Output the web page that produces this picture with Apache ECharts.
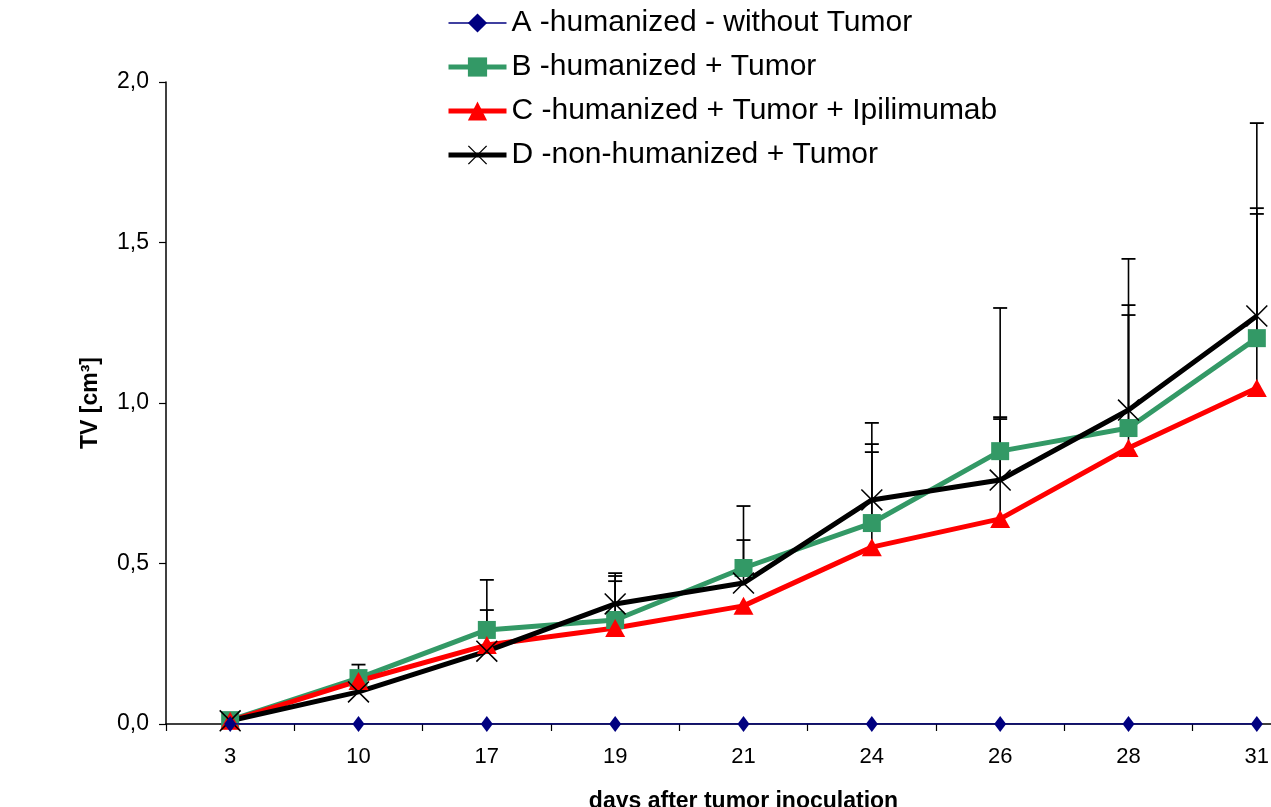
<!DOCTYPE html>
<html><head><meta charset="utf-8">
<script src="https://cdn.jsdelivr.net/npm/echarts@6/dist/echarts.min.js"></script>
<style>html,body{margin:0;padding:0;background:#fff}#c{width:1271px;height:807px}</style>
</head><body><div id="c"></div>
<script>
const days = ['3','10','17','19','21','24','26','28','31'];
const seriesNames = ['A -humanized - without Tumor','B -humanized + Tumor','C -humanized + Tumor + Ipilimumab','D -non-humanized + Tumor'];
const valA = [0,0,0,0,0,0,0,0,0];
const valB = [0.012,0.143,0.293,0.324,0.486,0.626,0.850,0.922,1.202];
const valC = [0.010,0.134,0.246,0.299,0.368,0.551,0.639,0.860,1.047];
const valD = [0.010,0.100,0.227,0.374,0.439,0.698,0.760,0.978,1.271];
const errB = [null,0.185,0.449,0.470,0.679,0.872,0.956,1.305,1.607];
const errC = [null,null,null,0.445,null,0.938,1.296,1.449,1.872];
const errD = [null,null,0.355,0.461,0.573,0.847,0.950,1.274,1.589];
const yTicks = {min:0, max:2, interval:0.5};

const xSym = 'path://M0,1L1,0L20,19L19,20ZM19,0L20,1L1,20L0,19Z';
function errData(vals, errs){
  const out=[];
  errs.forEach((e,i)=>{ if(e!=null) out.push([i, vals[i], e]); });
  return out;
}
const errAll = [].concat(errData(valB,errB), errData(valC,errC), errData(valD,errD));
const font = 'Liberation Sans, Arial, sans-serif';
const colors = ['#000080','#339966','#ff0000','#000000'];
const lineW = [1.5,5,5,5];
const chart = echarts.init(document.getElementById('c'));
chart.setOption({
  animation:false,
  backgroundColor:'#fff',
  grid:{left:166, top:82, bottom:83, width:1155, containLabel:false, outerBoundsMode:'none'},
  legend:{
    orient:'vertical', left:441, top:3, itemWidth:58, itemHeight:24, itemGap:14,
    textStyle:{fontFamily:font, fontSize:30, color:'#000'},
    data:seriesNames.map((n,i)=>({name:n, lineStyle:{width:lineW[i], color:colors[i]}}))
  },
  xAxis:{
    type:'category', data:days, boundaryGap:true,
    axisLine:{lineStyle:{color:'#000', width:1.5}},
    axisTick:{show:true, inside:false, length:7, alignWithLabel:false, lineStyle:{color:'#000', width:1.2}},
    axisLabel:{color:'#000', fontFamily:font, fontSize:22, margin:22},
    name:'days after tumor inoculation', nameLocation:'middle', nameGap:66,
    nameTextStyle:{fontFamily:font, fontSize:23, fontWeight:'bold', color:'#000'},
    splitLine:{show:false}
  },
  yAxis:{
    type:'value', min:yTicks.min, max:yTicks.max, interval:yTicks.interval,
    axisLine:{show:true, lineStyle:{color:'#000', width:1.5}},
    axisTick:{show:true, inside:false, length:7, lineStyle:{color:'#000', width:1.2}},
    axisLabel:{color:'#000', fontFamily:font, fontSize:23, margin:17,
      formatter:v=>v.toFixed(1).replace('.',',')},
    splitLine:{show:false},
    name:'TV [cm³]', nameLocation:'middle', nameGap:64, nameRotate:90,
    nameTextStyle:{fontFamily:font, fontSize:23, fontWeight:'bold', color:'#000'}
  },
  series:[
    {
      type:'custom', name:'err', z:1, silent:true,
      data:errAll,
      renderItem:(params, api)=>{
        const p0 = api.coord([api.value(0), api.value(1)]);
        const p1 = api.coord([api.value(0), api.value(2)]);
        const hw = 7;
        return {type:'group', children:[
          {type:'line', shape:{x1:p0[0],y1:p0[1],x2:p1[0],y2:p1[1]}, style:{stroke:'#000', lineWidth:1.6}},
          {type:'line', shape:{x1:p1[0]-hw,y1:p1[1],x2:p1[0]+hw,y2:p1[1]}, style:{stroke:'#000', lineWidth:1.8}}
        ]};
      }
    },
    {name:seriesNames[0], type:'line', data:valA, z:5, symbol:'diamond', symbolSize:[12,16],
     itemStyle:{color:colors[0]}, lineStyle:{color:colors[0], width:lineW[0]}},
    {name:seriesNames[1], type:'line', data:valB, z:4, symbol:'rect', symbolSize:18,
     itemStyle:{color:colors[1]}, lineStyle:{color:colors[1], width:lineW[1]}},
    {name:seriesNames[2], type:'line', data:valC, z:4, symbol:'triangle', symbolSize:[20,18],
     itemStyle:{color:colors[2]}, lineStyle:{color:colors[2], width:lineW[2]}},
    {name:seriesNames[3], type:'line', data:valD, z:4, symbol:xSym, symbolSize:22,
     itemStyle:{color:colors[3]}, lineStyle:{color:colors[3], width:lineW[3]}}
  ]
});
</script></body></html>
